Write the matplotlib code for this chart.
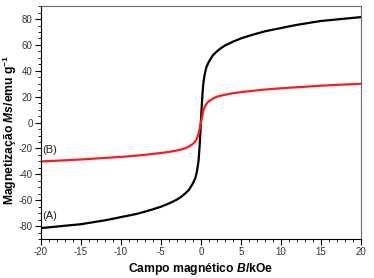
import matplotlib
matplotlib.use('Agg')
import matplotlib.pyplot as plt
from matplotlib.ticker import MultipleLocator

plt.rcParams['font.family'] = 'Liberation Sans'
plt.rcParams['mathtext.fontset'] = 'custom'
plt.rcParams['mathtext.it'] = 'Liberation Sans:italic:bold'
plt.rcParams['mathtext.rm'] = 'Liberation Sans:bold'
plt.rcParams['axes.unicode_minus'] = False

# field (kOe)
field = [-20, -17.5, -15, -13.5, -12, -11, -10, -9, -8, -7, -6, -5, -4, -3, -2.5, -2, -1.5, -1, -0.7, -0.5, -0.3, -0.2, -0.1,
         0, 0.1, 0.2, 0.3, 0.5, 0.7, 1, 1.5, 2, 2.5, 3, 4, 5, 6, 7, 8, 9, 10, 11, 12, 13.5, 15, 17.5, 20]

# sample (A), black
ms_a = [-81.5, -80, -78.5, -77, -75.5, -74.3, -73, -71.8, -70.5, -68.8, -67, -65, -62.5, -59.5, -57.5, -55, -52, -47, -43, -38, -30, -22, -12,
        0, 12, 22, 30, 38, 43, 47, 52, 55, 57.5, 59.5, 62.5, 65, 67, 68.8, 70.5, 71.8, 73, 74.3, 75.5, 77, 78.5, 80, 81.5]

# sample (B), red
ms_b = [-30, -29.3, -28.5, -27.9, -27.3, -26.9, -26.5, -26, -25.5, -24.9, -24.2, -23.5, -22.7, -21.5, -20.8, -20, -18.5, -16.5, -14.5, -12.5, -9, -6, -3,
        0, 3, 6, 9, 12.5, 14.5, 16.5, 18.5, 20, 20.8, 21.5, 22.7, 23.5, 24.2, 24.9, 25.5, 26, 26.5, 26.9, 27.3, 27.9, 28.5, 29.3, 30]

fig = plt.figure(figsize=(3.74, 2.78), dpi=100)
ax = fig.add_axes([0.1096, 0.140, 0.855, 0.838])

ax.plot(field, ms_a, color='black', lw=1.6)
ax.plot(field, ms_b, color='#ff1a1a', lw=1.6)

ax.text(-19.8, -72, '(A)', fontsize=8, va='center', ha='left', color='#222222')
ax.text(-19.8, -21.5, '(B)', fontsize=8, va='center', ha='left', color='#222222')

ax.set_xlim(-20, 20)
ax.set_ylim(-90, 90)
ax.xaxis.set_major_locator(MultipleLocator(5))
ax.xaxis.set_minor_locator(MultipleLocator(1))
ax.yaxis.set_major_locator(MultipleLocator(20))
ax.yaxis.set_minor_locator(MultipleLocator(5))
ax.tick_params(which='major', direction='out', length=4, width=0.8, labelsize=7, pad=2, labelcolor='#333333')
ax.tick_params(which='minor', direction='out', length=2, width=0.6)
ax.tick_params(top=False, right=False)

for s in ['top', 'right']:
    ax.spines[s].set_color('#666666')
for s in ['left', 'bottom']:
    ax.spines[s].set_color('black')

ax.set_xlabel(r'Campo magnético $\mathit{B}$/kOe', fontsize=8.7, fontweight='bold')
ax.set_ylabel(r'Magnetização $\mathit{Ms}$/emu g$^{-1}$', fontsize=8.7, fontweight='bold')
ax.xaxis.set_label_coords(0.5, -0.095)
ax.yaxis.set_label_coords(-0.068, 0.468)

fig.savefig('out.png', dpi=100)
